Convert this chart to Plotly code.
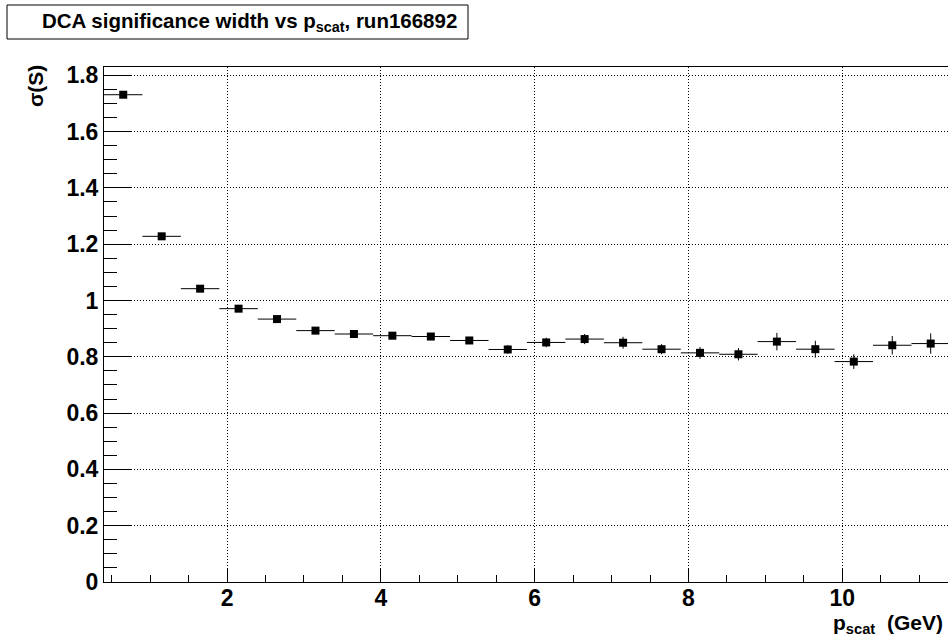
import plotly.graph_objects as go

# Bin centres of the p_scat histogram (GeV) and the bin half-width
p_centers = [0.65, 1.15, 1.65, 2.15, 2.65, 3.15, 3.65, 4.15, 4.65, 5.15, 5.65,
             6.15, 6.65, 7.15, 7.65, 8.15, 8.65, 9.15, 9.65, 10.15, 10.65, 11.15]
bin_half_width = [0.25] * len(p_centers)

# Fitted width of the DCA significance distribution per bin
sigma_s = [1.731, 1.228, 1.042, 0.971, 0.934, 0.893, 0.881, 0.875, 0.872, 0.858, 0.826,
           0.851, 0.863, 0.850, 0.827, 0.814, 0.809, 0.854, 0.827, 0.783, 0.841, 0.847]
sigma_err = [0.004, 0.004, 0.005, 0.006, 0.007, 0.008, 0.009, 0.010, 0.010, 0.010, 0.015,
             0.017, 0.018, 0.021, 0.018, 0.021, 0.022, 0.031, 0.030, 0.026, 0.033, 0.036]

x_ticks = [2, 4, 6, 8, 10]
y_ticks = [0, 0.2, 0.4, 0.6, 0.8, 1, 1.2, 1.4, 1.6, 1.8]

FONT = "Liberation Sans, Arial, Helvetica, sans-serif"
W, H = 948, 639
L, R, T, B = 104, 0, 67, 57
pw, ph = W - L - R, H - T - B


def px_x(px):
    return (px - L) / pw


def px_y(py):
    return (H - B - py) / ph


fig = go.Figure()
fig.add_trace(go.Scatter(
    x=p_centers, y=sigma_s, mode="markers",
    marker=dict(symbol="square", size=8, color="black"),
    error_x=dict(type="data", array=bin_half_width, width=0, thickness=1, color="black"),
    error_y=dict(type="data", array=sigma_err, width=0, thickness=1, color="black"),
    showlegend=False, cliponaxis=True,
))

axis_common = dict(
    showline=True, linecolor="black", linewidth=1,
    showgrid=True, gridcolor="black", griddash="1px,2px", gridwidth=1,
    zeroline=False, ticks="inside", tickcolor="black", tickwidth=1,
    tickfont=dict(family=FONT, size=23, color="black", weight="bold"),
)

fig.update_xaxes(
    range=[0.4, 11.375], tickvals=x_ticks, ticktext=[str(v) for v in x_ticks],
    ticklen=14, mirror=True, ticklabelstandoff=-5,
    minor=dict(ticks="inside", ticklen=7, dtick=0.5, tick0=0, tickcolor="black", showgrid=False),
    **axis_common,
)
fig.update_yaxes(
    range=[0, 1.8295], tickvals=y_ticks, ticktext=["0", "0.2", "0.4", "0.6", "0.8", "1", "1.2", "1.4", "1.6", "1.8"],
    ticklen=27, mirror=False,
    minor=dict(ticks="inside", ticklen=13, dtick=0.05, tick0=0, tickcolor="black", showgrid=False),
    **axis_common,
)

# Title box in the upper-left corner
fig.add_shape(type="rect", xref="paper", yref="paper",
              x0=px_x(7), x1=px_x(468), y0=px_y(39), y1=px_y(5),
              line=dict(color="black", width=1), fillcolor="white")
fig.add_annotation(
    xref="paper", yref="paper", x=px_x(249), y=px_y(22),
    text="DCA significance width vs p<sub>scat</sub>, run166892",
    showarrow=False, xanchor="center", yanchor="middle",
    font=dict(family=FONT, size=20.5, color="black", weight="bold"),
)

# Axis titles, placed at the axis ends
fig.add_annotation(
    xref="paper", yref="paper", x=px_x(35), y=px_y(86),
    text="σ(S)", textangle=-90, showarrow=False,
    xanchor="center", yanchor="middle",
    font=dict(family=FONT, size=21, color="black", weight="bold"),
)
fig.add_annotation(
    xref="paper", yref="paper", x=px_x(945), y=px_y(624),
    text="p<sub>scat</sub>  (GeV)", showarrow=False,
    xanchor="right", yanchor="middle",
    font=dict(family=FONT, size=21, color="black", weight="bold"),
)

fig.update_layout(
    width=W, height=H,
    margin=dict(l=L, r=R, t=T, b=B, pad=0),
    paper_bgcolor="white", plot_bgcolor="white",
    font=dict(family=FONT, color="black"),
)

fig.write_html("out.html")
